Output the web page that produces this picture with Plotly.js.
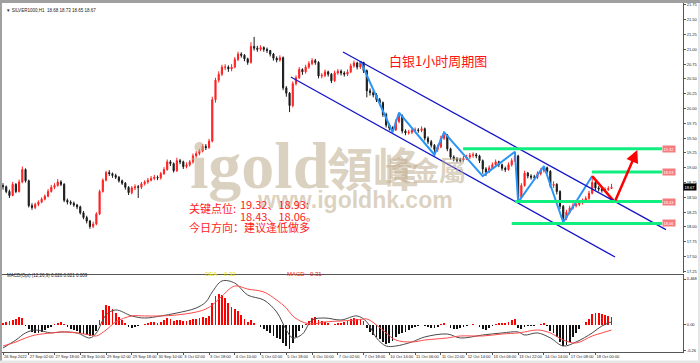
<!DOCTYPE html>
<html><head><meta charset="utf-8">
<script src="https://cdn.plot.ly/plotly-3.0.1.min.js"></script>
<style>html,body{margin:0;padding:0;background:#fff;}#c{width:700px;height:363px;}</style>
</head><body><div id="c"></div>
<script>
// ---- price data (2-hour bars) ----
const open=[18.70,18.68,18.60,18.53,18.72,18.60,18.76,18.97,18.78,18.36,18.33,18.38,18.42,18.47,18.52,18.60,18.67,18.70,18.76,18.72,
18.45,18.42,18.40,18.37,18.34,18.24,18.16,18.10,18.01,18.05,18.22,18.60,18.79,18.92,18.90,18.87,18.84,18.78,18.74,18.67,
18.58,18.66,18.68,18.67,18.73,18.76,18.79,18.82,18.84,18.83,18.90,18.97,19.10,19.07,18.95,19.12,19.10,19.02,19.05,19.10,
19.20,19.24,19.28,19.36,19.34,19.45,20.15,20.48,20.58,20.70,20.70,20.67,20.70,20.83,20.92,20.90,20.84,20.78,21.05,21.02,
21.00,21.03,21.00,20.98,20.92,20.85,20.82,20.86,20.35,20.26,20.05,20.42,20.52,20.66,20.62,20.70,20.76,20.81,20.78,20.55,
20.56,20.62,20.58,20.47,20.60,20.63,20.60,20.58,20.62,20.72,20.77,20.70,20.78,20.64,20.30,20.27,20.23,20.15,20.10,19.90,
19.72,19.67,19.64,19.78,19.88,19.62,19.59,19.60,19.63,19.64,19.63,19.66,19.50,19.44,19.38,19.31,19.35,19.50,19.55,19.32,
19.18,19.15,19.13,19.13,19.16,19.18,19.21,19.22,19.20,19.12,18.98,18.93,19.00,19.05,19.10,19.05,18.99,18.97,19.05,19.12,
19.20,18.50,18.70,18.91,18.86,18.84,18.84,18.90,18.95,19.00,18.94,18.70,18.72,18.60,18.35,18.15,18.25,18.32,18.36,18.38,
18.41,18.44,18.48,18.57,18.75,18.66,18.64,18.62,18.63,18.65];
const high=[18.74,18.70,18.63,18.76,18.74,18.80,19.02,18.99,18.80,18.40,18.41,18.45,18.50,18.55,18.64,18.71,18.74,18.81,18.79,18.74,
18.48,18.45,18.43,18.39,18.36,18.27,18.19,18.12,18.09,18.25,18.63,18.82,18.95,18.96,18.92,18.90,18.86,18.80,18.76,18.69,
18.69,18.72,18.71,18.76,18.79,18.83,18.86,18.88,18.87,18.93,19.01,19.14,19.13,19.09,19.17,19.15,19.12,19.09,19.13,19.24,
19.28,19.32,19.40,19.40,19.49,20.20,20.52,20.63,20.74,20.75,20.73,20.75,20.87,20.96,20.95,20.92,20.86,21.12,21.21,21.06,
21.07,21.05,21.03,20.99,20.94,20.88,20.90,20.88,20.38,20.28,20.46,20.56,20.70,20.68,20.74,20.80,20.85,20.84,20.80,20.60,
20.66,20.64,20.60,20.64,20.67,20.66,20.63,20.66,20.76,20.81,20.79,20.80,20.79,20.66,20.34,20.31,20.26,20.18,20.12,19.93,
19.75,19.70,19.82,19.93,19.90,19.65,19.64,19.67,19.68,19.67,19.70,19.68,19.53,19.47,19.40,19.39,19.54,19.60,19.57,19.34,
19.21,19.18,19.17,19.20,19.22,19.25,19.26,19.25,19.22,19.14,19.01,19.04,19.09,19.14,19.12,19.07,19.02,19.09,19.16,19.27,
19.22,18.74,18.95,18.93,18.89,18.88,18.94,18.99,19.03,19.02,18.96,18.77,18.74,18.62,18.37,18.29,18.36,18.40,18.42,18.45,
18.48,18.52,18.61,18.86,18.78,18.69,18.67,18.67,18.69,18.73];
const low=[18.63,18.57,18.49,18.52,18.57,18.58,18.74,18.75,18.33,18.29,18.30,18.35,18.40,18.45,18.50,18.58,18.64,18.68,18.69,18.42,
18.38,18.37,18.34,18.30,18.21,18.13,18.06,17.97,17.98,18.03,18.20,18.58,18.77,18.86,18.83,18.81,18.75,18.71,18.63,18.54,
18.55,18.62,18.49,18.64,18.70,18.73,18.77,18.79,18.79,18.80,18.88,18.95,19.03,18.92,18.93,19.06,18.98,18.99,19.02,19.07,
19.17,19.21,19.26,19.30,19.32,19.43,20.10,20.44,20.55,20.65,20.62,20.63,20.68,20.80,20.86,20.80,20.74,20.76,20.98,20.96,
20.97,20.96,20.94,20.88,20.81,20.78,20.79,20.31,20.20,19.94,20.02,20.39,20.50,20.57,20.59,20.67,20.73,20.74,20.51,20.51,
20.53,20.54,20.43,20.45,20.57,20.56,20.54,20.55,20.60,20.69,20.66,20.67,20.60,20.19,20.22,20.19,20.11,20.05,19.86,19.68,
19.63,19.60,19.62,19.75,19.58,19.55,19.56,19.57,19.60,19.59,19.60,19.46,19.40,19.34,19.22,19.27,19.33,19.47,19.28,19.14,
19.11,19.09,19.09,19.10,19.13,19.15,19.17,19.16,19.08,18.90,18.86,18.91,18.98,19.02,19.01,18.95,18.93,18.95,19.02,19.10,
18.42,18.47,18.68,18.82,18.80,18.80,18.81,18.87,18.92,18.90,18.66,18.66,18.55,18.30,18.08,18.12,18.22,18.29,18.33,18.35,
18.38,18.41,18.46,18.55,18.62,18.60,18.58,18.59,18.61,18.64];
const close=[18.68,18.60,18.53,18.72,18.60,18.76,18.97,18.78,18.36,18.33,18.38,18.42,18.47,18.52,18.60,18.67,18.70,18.76,18.72,18.45,
18.42,18.40,18.37,18.34,18.24,18.16,18.10,18.01,18.05,18.22,18.60,18.79,18.92,18.90,18.87,18.84,18.78,18.74,18.67,18.58,
18.66,18.68,18.67,18.73,18.76,18.79,18.82,18.84,18.83,18.90,18.97,19.10,19.07,18.95,19.12,19.10,19.02,19.05,19.10,19.20,
19.24,19.28,19.36,19.34,19.45,20.15,20.48,20.58,20.70,20.70,20.67,20.70,20.83,20.92,20.90,20.84,20.78,21.05,21.02,21.00,
21.03,21.00,20.98,20.92,20.85,20.82,20.86,20.35,20.26,20.05,20.42,20.52,20.66,20.62,20.70,20.76,20.81,20.78,20.55,20.56,
20.62,20.58,20.47,20.60,20.63,20.60,20.58,20.62,20.72,20.77,20.70,20.78,20.64,20.30,20.27,20.23,20.15,20.10,19.90,19.72,
19.67,19.64,19.78,19.88,19.62,19.59,19.60,19.63,19.64,19.63,19.66,19.50,19.44,19.38,19.31,19.35,19.50,19.55,19.32,19.18,
19.15,19.13,19.13,19.16,19.18,19.21,19.22,19.20,19.12,18.98,18.93,19.00,19.05,19.10,19.05,18.99,18.97,19.05,19.12,19.20,
18.50,18.70,18.91,18.86,18.84,18.84,18.90,18.95,19.00,18.94,18.70,18.72,18.60,18.35,18.15,18.25,18.32,18.36,18.38,18.41,
18.44,18.48,18.57,18.75,18.66,18.64,18.62,18.63,18.65,18.67];

// ---- x-axis labels (one every 8 bars) ----
const timeLabels=["26 Sep 2022","27 Sep 02:00","27 Sep 18:00","28 Sep 10:00","29 Sep 02:00","29 Sep 18:00","30 Sep 10:00",
"3 Oct 02:00","3 Oct 18:00","4 Oct 10:00","5 Oct 02:00","5 Oct 18:00","6 Oct 10:00","7 Oct 02:00","7 Oct 18:00",
"10 Oct 14:00","11 Oct 06:00","11 Oct 22:00","12 Oct 14:00","13 Oct 06:00","13 Oct 22:00","14 Oct 14:00","17 Oct 08:00","18 Oct 00:00"];

// ---- MACD ----
const hist=[0.02,0.03,0.04,0.05,0.06,0.08,0.07,
-0.01,-0.04,-0.07,-0.08,-0.08,-0.07,-0.05,-0.03,-0.02,0.01,0.02,0.03,
0.01,-0.02,-0.04,-0.05,-0.06,
-0.08,-0.09,-0.10,-0.11,-0.10,-0.06,
0.05,0.15,0.20,0.19,0.16,0.12,
0.08,0.05,0.02,-0.02,-0.03,-0.02,-0.01,
0.00,0.01,0.02,0.03,0.03,0.02,0.03,0.05,
0.07,0.06,0.04,0.05,0.05,0.04,0.04,0.05,0.06,0.06,0.07,0.08,0.07,
0.09,0.22,0.30,0.32,0.31,0.27,0.22,0.18,
0.16,0.14,0.10,0.06,0.03,0.05,
0.02,0.00,-0.02,-0.04,-0.06,-0.08,-0.11,-0.13,-0.14,-0.18,-0.21,-0.24,
-0.18,-0.12,-0.06,-0.03,0.01,0.04,0.07,
0.08,0.05,0.04,0.03,0.02,0.00,0.01,0.02,0.02,
0.03,0.04,0.06,0.07,0.06,0.06,0.04,
-0.03,-0.07,-0.10,-0.12,-0.14,-0.17,-0.19,-0.18,-0.16,-0.12,-0.09,-0.08,
-0.07,-0.05,-0.03,-0.02,-0.01,0.00,-0.01,-0.02,-0.03,-0.03,-0.02,0.01,
0.02,0.00,-0.03,-0.04,-0.04,-0.03,-0.02,-0.01,0.00,0.01,0.00,-0.02,-0.04,-0.05,
-0.03,-0.01,0.01,0.02,0.02,0.02,0.03,0.05,0.06,
-0.03,-0.04,-0.02,-0.01,-0.01,-0.01,0.00,0.01,0.02,
-0.01,-0.06,-0.08,-0.12,-0.17,-0.21,-0.20,-0.17,
-0.12,-0.08,-0.04,0.00,0.03,0.06,
0.11,0.12,0.12,0.11,0.10,0.09,0.08];
const macdIdx=[0,4,7,10,15,18,23,27,29,32,35,40,44,49,54,60,63,65,68,72,76,81,85,88,90,93,96,100,105,110,113,116,119,122,127,131,138,142,149,155,160,162,166,170,174,178,183,186,189];
const macdLine=[-0.234,-0.153,-0.081,-0.051,-0.081,-0.071,-0.081,-0.132,-0.081,0.102,0.153,0.092,0.071,0.092,0.122,0.173,0.234,0.336,0.448,0.427,0.305,0.254,0.132,-0.051,-0.132,-0.092,0.051,0.071,0.051,0.092,0.031,-0.132,-0.214,-0.214,-0.173,-0.122,-0.092,-0.132,-0.102,-0.081,-0.071,-0.102,-0.081,-0.132,-0.214,-0.173,-0.081,-0.010,0.031];
const signalLine=[-0.214,-0.173,-0.132,-0.102,-0.081,-0.071,-0.081,-0.102,-0.112,-0.051,0.031,0.092,0.092,0.092,0.102,0.132,0.163,0.203,0.295,0.397,0.366,0.336,0.254,0.173,0.092,0.031,0.010,0.031,0.041,0.051,0.061,0.0,-0.081,-0.153,-0.173,-0.153,-0.132,-0.112,-0.112,-0.092,-0.081,-0.071,-0.051,-0.081,-0.153,-0.183,-0.112,-0.081,-0.051];

// ---- drawn analysis objects ----
const zzIdx=[111,121,123,134,137,149,159,160,168,174,183];
const zzPrice=[20.80,19.60,19.93,19.22,19.60,18.86,19.27,18.42,19.03,18.08,18.86];
const arrowIdx=[183,190,197];
const arrowPrice=[18.86,18.42,19.30];
const channelUpper={i0:105.6,p0:20.956,i1:205.9,p1:17.956};
const channelLower={i0:89.4,p0:20.533,i1:190.1,p1:17.493};
const levels=[19.32,18.93,18.43,18.06];
const levelStart=[142.9,182.9,159.0,158.0];
const lastPrice=18.67;

const idx=close.map((_,i)=>i);
const tickIdx=timeLabels.map((_,k)=>k*8);

const traces=[
 {type:'candlestick',x:idx,open:open,high:high,low:low,close:close,xaxis:'x',yaxis:'y',
  increasing:{line:{color:'#ff2020',width:1},fillcolor:'#ff2020'},
  decreasing:{line:{color:'#1a1a1a',width:1},fillcolor:'#1a1a1a'},
  whiskerwidth:0,hoverinfo:'skip',showlegend:false},
 {type:'scatter',mode:'lines',x:zzIdx,y:zzPrice,xaxis:'x',yaxis:'y',line:{color:'#2b95f5',width:2},hoverinfo:'skip',showlegend:false},
 {type:'scatter',mode:'lines',x:arrowIdx.slice(0,2),y:arrowPrice.slice(0,2),xaxis:'x',yaxis:'y',line:{color:'#ff0000',width:2.5},hoverinfo:'skip',showlegend:false},
 {type:'bar',x:idx,y:hist,xaxis:'x2',yaxis:'y2',width:0.55,marker:{color:hist.map(v=>v>=0?'#ff0000':'#111111'),line:{width:0}},hoverinfo:'skip',showlegend:false},
 {type:'scatter',mode:'lines',x:macdIdx,y:macdLine,xaxis:'x2',yaxis:'y2',line:{color:'#4a4a4a',width:1,shape:'spline'},hoverinfo:'skip',showlegend:false},
 {type:'scatter',mode:'lines',x:macdIdx,y:signalLine,xaxis:'x2',yaxis:'y2',line:{color:'#ff4a4a',width:1,shape:'spline'},hoverinfo:'skip',showlegend:false}
];

const shapes=[
 {type:'line',xref:'x',yref:'y',x0:channelUpper.i0,y0:channelUpper.p0,x1:channelUpper.i1,y1:channelUpper.p1,line:{color:'#1414c8',width:1.3}},
 {type:'line',xref:'x',yref:'y',x0:channelLower.i0,y0:channelLower.p0,x1:channelLower.i1,y1:channelLower.p1,line:{color:'#1414c8',width:1.3}},
 // frame (grey window border left and top, light border right and bottom)
 {type:'rect',xref:'paper',yref:'paper',x0:-0.003,x1:0,y0:-0.04,y1:1.01,line:{width:0},fillcolor:'#a0a0a0',layer:'above'},
 {type:'rect',xref:'paper',yref:'paper',x0:-0.003,x1:1.03,y0:1.0,y1:1.009,line:{width:0},fillcolor:'#a0a0a0',layer:'above'},
 {type:'rect',xref:'paper',yref:'paper',x0:1.022,x1:1.03,y0:-0.04,y1:1.0,line:{width:0},fillcolor:'#e6e6e6',layer:'above'},
 {type:'rect',xref:'paper',yref:'paper',x0:-0.003,x1:1.03,y0:-0.032,y1:-0.024,line:{width:0},fillcolor:'#e6e6e6',layer:'above'}
];
levels.forEach((lv,k)=>{
 shapes.push({type:'line',xref:'x',yref:'y',x0:levelStart[k],x1:204.7,y0:lv,y1:lv,line:{color:'#10ee80',width:3}});
});

const ann=[];
levels.forEach(lv=>{
 ann.push({xref:'x',yref:'y',x:206.7,y:lv,text:lv.toFixed(2),showarrow:false,bgcolor:'#f47c7c',borderpad:0.5,
  font:{family:'Liberation Sans',size:4,color:'#ffffff'}});
});
ann.push({xref:'paper',yref:'y',x:1,xanchor:'left',xshift:0,y:lastPrice,text:lastPrice.toFixed(2),showarrow:false,bgcolor:'#000',borderpad:0.5,
 font:{family:'Liberation Sans',size:4,color:'#fff'}});
ann.push({xref:'x',yref:'y',x:arrowIdx[2],y:arrowPrice[2],ax:arrowIdx[1],ay:arrowPrice[1],axref:'x',ayref:'y',text:'',
 showarrow:true,arrowhead:2,arrowsize:1,arrowwidth:2.5,arrowcolor:'#ff0000'});
const P=(x)=> (x-2)/681, Q=(y)=> (352-y)/349;
const wm='rgba(190,172,140,0.55)';
ann.push({xref:'paper',yref:'paper',x:P(259),y:Q(166),text:'<b>igold</b>',showarrow:false,font:{family:'Liberation Serif',size:66,color:wm}});
ann.push({xref:'paper',yref:'paper',x:P(373),y:Q(166),text:'<b>領峰</b>',showarrow:false,font:{family:'Noto Sans CJK TC',size:46,color:wm}});
ann.push({xref:'paper',yref:'paper',x:P(468),y:Q(169),text:'<b>貴金屬</b>',showarrow:false,font:{family:'Noto Sans CJK TC',size:27,color:wm}});
ann.push({xref:'paper',yref:'paper',x:P(355),y:Q(200),text:'<b>www.igoldhk.com</b>',showarrow:false,font:{family:'Liberation Sans',size:23,color:wm}});
ann.push({xref:'paper',yref:'paper',x:P(489),y:Q(49),text:'白银1小时周期图',showarrow:false,font:{family:'Noto Sans CJK SC',size:13,color:'#ff1010'}});
const red='#ff1a1a';
ann.push({xref:'paper',yref:'paper',x:P(187),y:Q(208),xanchor:'left',text:'关键点位:',showarrow:false,font:{family:'Noto Sans CJK SC',size:11,color:red}});
ann.push({xref:'paper',yref:'paper',x:P(238),y:Q(204),xanchor:'left',text:'19.32、18.93:',showarrow:false,font:{family:'Noto Sans CJK SC',size:11,color:red}});
ann.push({xref:'paper',yref:'paper',x:P(238),y:Q(216),xanchor:'left',text:'18.43、18.06。',showarrow:false,font:{family:'Noto Sans CJK SC',size:11,color:red}});
ann.push({xref:'paper',yref:'paper',x:P(187),y:Q(227),xanchor:'left',text:'今日方向：建议逢低做多',showarrow:false,font:{family:'Noto Sans CJK SC',size:11,color:red}});
ann.push({xref:'paper',yref:'paper',x:P(4),y:Q(6),xanchor:'left',text:'▼ SILVER1000,H1  18.68 18.73 18.65 18.67',showarrow:false,font:{family:'Liberation Sans',size:4.5,color:'#222'}});
ann.push({xref:'paper',yref:'paper',x:P(5),y:Q(280),xanchor:'left',text:'MACD(Opt) (12,26,9) 0.026 0.021 0.009',showarrow:false,font:{family:'Liberation Sans',size:4.5,color:'#222'}});
ann.push({xref:'paper',yref:'paper',x:P(203),y:Q(279),xanchor:'left',text:'DEA',showarrow:false,font:{family:'Liberation Sans',size:6,color:'#e8e000'}});
ann.push({xref:'paper',yref:'paper',x:P(222),y:Q(279),xanchor:'left',text:'0.32',showarrow:false,font:{family:'Liberation Sans',size:6,color:'#e8e000'}});
ann.push({xref:'paper',yref:'paper',x:P(285),y:Q(279),xanchor:'left',text:'MACD',showarrow:false,font:{family:'Liberation Sans',size:6,color:'#ff2020'}});
ann.push({xref:'paper',yref:'paper',x:P(308),y:Q(279),xanchor:'left',text:'0.31',showarrow:false,font:{family:'Liberation Sans',size:6,color:'#cc1010'}});

const xr=[-0.31,211.2];
const layout={
 width:700,height:363,margin:{l:2,r:17,t:3,b:11},paper_bgcolor:'#fff',plot_bgcolor:'#fff',
 showlegend:false,bargap:0,boxgap:0.5,
 xaxis:{domain:[0,1],range:xr,anchor:'y',rangeslider:{visible:false},showticklabels:false,ticks:'',showgrid:false,zeroline:false,showline:false},
 xaxis2:{domain:[0,1],range:xr,anchor:'y2',matches:'x',showgrid:false,zeroline:false,showline:true,mirror:true,linecolor:'#555',linewidth:1,
   tickmode:'array',tickvals:tickIdx,ticktext:timeLabels,ticks:'outside',ticklen:2,tickcolor:'#555',ticklabelposition:'outside right',
   tickfont:{family:'Liberation Sans',size:4,color:'#222'},tickangle:0},
 yaxis:{domain:[0.2264,1],range:[17.223,21.783],side:'right',anchor:'x',showgrid:false,zeroline:false,showline:true,linecolor:'#555',linewidth:1,
   tick0:17.25,dtick:0.25,tickformat:'.2f',ticks:'outside',ticklen:2,tickcolor:'#555',tickfont:{family:'Liberation Sans',size:4,color:'#222'}},
 yaxis2:{domain:[0,0.2206],range:[-0.275,0.509],side:'right',anchor:'x2',showgrid:false,zeroline:false,showline:true,linecolor:'#555',linewidth:1,
   tickmode:'array',tickvals:[0.468,0,-0.26],ticktext:['0.468','0.00','-0.26'],ticks:'outside',ticklen:2,tickcolor:'#555',
   tickfont:{family:'Liberation Sans',size:4,color:'#222'}},
 shapes:shapes,annotations:ann
};
Plotly.newPlot('c',traces,layout,{staticPlot:true,displayModeBar:false});
</script></body></html>
